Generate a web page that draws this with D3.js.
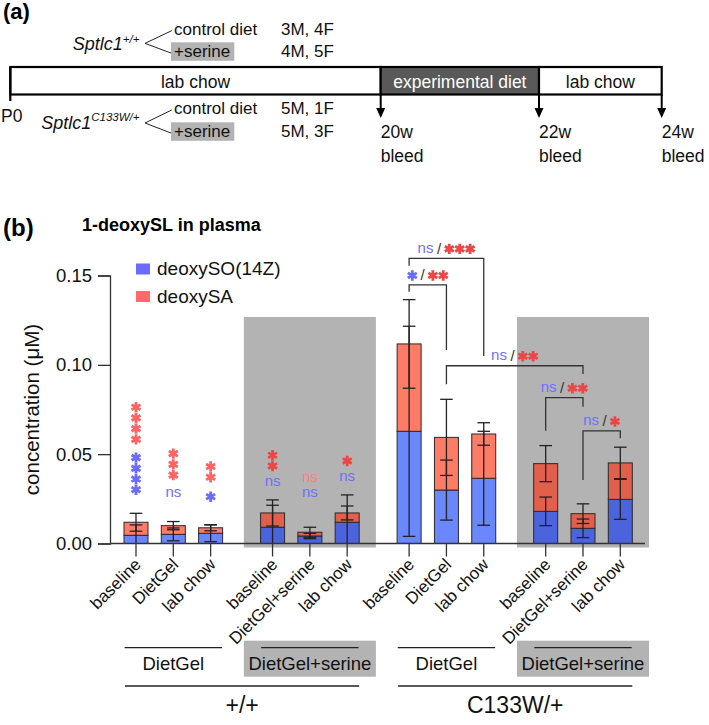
<!DOCTYPE html>
<html><head><meta charset="utf-8">
<script src="https://cdn.jsdelivr.net/npm/d3@7"></script>
<style>
body{margin:0;background:#fff}
svg{display:block;font-family:"Liberation Sans",Arial,Helvetica,sans-serif}
</style></head><body>
<svg id="c" width="709" height="725"></svg>
<script>
// ================= DATA =================
// Panel (a)
const genotypeNames = ["Sptlc1", "Sptlc1"];
const genotypeSup = ["+/+", "C133W/+"];
const dietOptions = ["control diet", "+serine"];
const cohortCounts = [["3M, 4F", "4M, 5F"], ["5M, 1F", "5M, 3F"]];
const timelineSegments = ["lab chow", "experimental diet", "lab chow"];
const timelineWeeks = [0, 20, 22, 24];
const bleedWeeks = [20, 22, 24];
const bleedLabels = ["20w", "22w", "24w"];

// Panel (b)
const chartTitle = "1-deoxySL in plasma";
const seriesNames = ["deoxySO(14Z)", "deoxySA"];
const tickLabels = ["baseline", "DietGel", "lab chow",
                    "baseline", "DietGel+serine", "lab chow",
                    "baseline", "DietGel", "lab chow",
                    "baseline", "DietGel+serine", "lab chow"];
const dietGroups = ["DietGel", "DietGel+serine", "DietGel", "DietGel+serine"];
const genotypeGroups = ["+/+", "C133W/+"];
const soMean = [0.0046, 0.0051, 0.0057, 0.0091, 0.0042, 0.0119, 0.0628, 0.0299, 0.0365, 0.0180, 0.0085, 0.0247];
const soSD   = [0.0058, 0.0036, 0.0047, 0.0123, 0.0015, 0.0153, 0.0588, 0.0168, 0.0263, 0.0080, 0.0052, 0.0112];
const saMean = [0.0073, 0.0049, 0.0031, 0.0080, 0.0021, 0.0052, 0.0489, 0.0295, 0.0248, 0.0267, 0.0082, 0.0204];
const saSD   = [0.0050, 0.0023, 0.0017, 0.0073, 0.0028, 0.0039, 0.0248, 0.0213, 0.0063, 0.0101, 0.0055, 0.0088];
const yTicks = [0, 0.05, 0.10, 0.15];
// significance vs wild-type (+/+ bars)
const sigSO = ["****", "ns", "*", "ns", "ns", "ns"];
const sigSA = ["****", "***", "**", "**", "ns", "*"];
// pairwise comparisons (bar indices)
const compA  = [6, 6, 7, 9, 10];
const compB  = [8, 7, 10, 10, 11];
const compSO = ["ns", "*", "ns", "ns", "ns"];
const compSA = ["***", "**", "**", "**", "*"];

// ================= LAYOUT =================
const sigSOAnchor = [0.0301, 0.0281, 0.0262, 0.0346, 0.0280, 0.0374];
const sigSAAnchor = [0.0583, 0.0383, 0.0371, 0.0434, 0.0368, 0.0462];
const compLevel = [0.1596, 0.1447, 0.0995, 0.0816, 0.0630];
const compLegA  = [0.1555, 0.1409, 0.0891, 0.0631, 0.0355];
const compLegB  = [0.1049, 0.1083, 0.0949, 0.0766, 0.0589];

const svg = d3.select("#c");
const FONT = '"Liberation Sans",Arial,sans-serif';
const BLUE = "#6b87fe", RED = "#fe7b65", BLUE_D = "#4b63dc", RED_D = "#e2604b";
const GRAY = "#b3b3b3";
const SIG_BLUE = "#6b6bff", SIG_RED = "#ff6464", SIG_RED_D = "#ee4646";

function starPath(r) {
  const c = Math.cos(Math.PI / 6) * r, s = Math.sin(Math.PI / 6) * r;
  return `M0,${-r}L0,${r}M${-c},${-s}L${c},${s}M${-c},${s}L${c},${-s}`;
}
function drawStar(g, cx, cy, color) {
  g.append("path").attr("d", starPath(5.2)).attr("transform", `translate(${cx},${cy})`)
    .attr("stroke", color).attr("stroke-width", 2.8).attr("fill", "none");
}

// ================= PANEL (a) =================
const pa = svg.append("g");
pa.append("text").attr("x", 3).attr("y", 19).attr("font-size", 22).attr("font-weight", "bold").text("(a)");

const rowBase = [[34.7, 57], [114, 137]];
const nameBase = [50, 128.5];
const nameRight = 139.5;
genotypeNames.forEach((nm, gi) => {
  const t = pa.append("text").attr("x", nameRight).attr("y", nameBase[gi])
    .attr("text-anchor", "end").attr("font-size", 18).attr("font-style", "italic").attr("fill", "#111");
  t.append("tspan").text(nm);
  t.append("tspan").attr("font-size", 11.5).attr("dy", -7.5).text(genotypeSup[gi]);
  const vx = 145, vy = (rowBase[gi][0] + rowBase[gi][1]) / 2 - 2.5;
  pa.append("path").attr("d", `M${171.7},${rowBase[gi][0] - 4}L${vx},${vy}L${171.7},${rowBase[gi][1] - 3.7}`)
    .attr("fill", "none").attr("stroke", "#222").attr("stroke-width", 1);
  dietOptions.forEach((d, di) => {
    const by = rowBase[gi][di];
    if (di === 1) pa.append("rect").attr("x", 171).attr("y", by - 14.7).attr("width", 63.3).attr("height", 18.5).attr("fill", GRAY);
    pa.append("text").attr("x", 174).attr("y", by).attr("font-size", 17).attr("fill", "#111").text(d);
    pa.append("text").attr("x", 281).attr("y", by).attr("font-size", 17).attr("fill", "#111").text(cohortCounts[gi][di]);
  });
});

const tx = d3.scaleLinear().domain(timelineWeeks).range([10.3, 380.7, 539, 661.7]);
const tTop = 67, tBot = 94.5;
timelineSegments.forEach((s, i) => {
  const x0 = tx(timelineWeeks[i]), x1 = tx(timelineWeeks[i + 1]);
  pa.append("rect").attr("x", x0).attr("y", tTop).attr("width", x1 - x0).attr("height", tBot - tTop)
    .attr("fill", i === 1 ? "#595959" : "#fff").attr("stroke", "#000").attr("stroke-width", 2.2);
  pa.append("text").attr("x", (x0 + x1) / 2).attr("y", 87.5).attr("text-anchor", "middle")
    .attr("font-size", 17.5).attr("fill", i === 1 ? "#fff" : "#111").text(s);
});
pa.append("line").attr("x1", tx(0)).attr("x2", tx(0)).attr("y1", tTop).attr("y2", 101)
  .attr("stroke", "#000").attr("stroke-width", 2.2);
pa.append("text").attr("x", 1).attr("y", 122).attr("font-size", 17.5).attr("fill", "#111").text("P0");
bleedWeeks.forEach((w, i) => {
  const x = tx(w);
  pa.append("line").attr("x1", x).attr("x2", x).attr("y1", tBot).attr("y2", 109).attr("stroke", "#000").attr("stroke-width", 2);
  pa.append("path").attr("d", `M${x - 4.5},${108}L${x + 4.5},${108}L${x},${118}Z`).attr("fill", "#000");
  pa.append("text").attr("x", x).attr("y", 138).attr("font-size", 17.5).attr("fill", "#111").text(bleedLabels[i]);
  pa.append("text").attr("x", x).attr("y", 161.5).attr("font-size", 17.5).attr("fill", "#111").text("bleed");
});

// ================= PANEL (b) =================
const pb = svg.append("g");
pb.append("text").attr("x", 3).attr("y", 236).attr("font-size", 24).attr("font-weight", "bold").text("(b)");
pb.append("text").attr("x", 82).attr("y", 231).attr("font-size", 18).attr("font-weight", "bold").text(chartTitle);

const y = d3.scaleLinear().domain([0, 0.15]).range([543.5, 275.5]);
const GAP = 0.66;
const posIndex = i => i + Math.floor(i / 3) * GAP;
const x = d3.scaleLinear().domain([0, 11 + 3 * GAP]).range([136, 620.3]);
const bx = i => x(posIndex(i));
const BW = 24;
const y0 = y(0);

// gray backgrounds for +serine groups
[1, 3].forEach(g => {
  const xa = bx(g * 3) - 28.7, xb = bx(g * 3 + 2) + 28.7;
  pb.append("rect").attr("x", xa).attr("y", y(0.1268)).attr("width", xb - xa).attr("height", y0 + 4 - y(0.1268)).attr("fill", GRAY);
});

// bars
soMean.forEach((so, i) => {
  const dark = Math.floor(i / 3) % 2 === 1;
  const sa = saMean[i];
  const cx = bx(i);
  pb.append("rect").attr("x", cx - BW / 2).attr("y", y(so)).attr("width", BW).attr("height", y0 - y(so))
    .attr("fill", dark ? BLUE_D : BLUE).attr("stroke", "#2a2a2a").attr("stroke-width", 1);
  pb.append("rect").attr("x", cx - BW / 2).attr("y", y(so + sa)).attr("width", BW).attr("height", y(so) - y(so + sa))
    .attr("fill", dark ? RED_D : RED).attr("stroke", "#2a2a2a").attr("stroke-width", 1);
});
// error bars
function errBar(cx, m, sd) {
  const hi = m + sd, lo = Math.max(0, m - sd);
  pb.append("line").attr("x1", cx).attr("x2", cx).attr("y1", y(hi)).attr("y2", y(lo)).attr("stroke", "#222").attr("stroke-width", 1.3);
  pb.append("line").attr("x1", cx - 6.3).attr("x2", cx + 6.3).attr("y1", y(hi)).attr("y2", y(hi)).attr("stroke", "#222").attr("stroke-width", 1.3);
  if (m - sd > 0)
    pb.append("line").attr("x1", cx - 6.3).attr("x2", cx + 6.3).attr("y1", y(lo)).attr("y2", y(lo)).attr("stroke", "#222").attr("stroke-width", 1.3);
}
soMean.forEach((so, i) => {
  errBar(bx(i), so, soSD[i]);
  errBar(bx(i), so + saMean[i], saSD[i]);
});

// y axis
const yAxis = pb.append("g").attr("transform", "translate(110,0)")
  .call(d3.axisLeft(y).tickValues(yTicks).tickFormat(d3.format(".2f")).tickSize(12).tickPadding(6));
yAxis.selectAll("text").attr("font-size", 18.5).attr("font-family", FONT).attr("fill", "#111");
yAxis.selectAll("line,path").attr("stroke", "#333").attr("stroke-width", 1.3);
pb.append("text").attr("transform", `translate(39,${(y(0) + y(0.15)) / 2}) rotate(-90)`)
  .attr("text-anchor", "middle").attr("font-size", 20.5).attr("fill", "#111").text("concentration (μM)");

// x axis
pb.append("line").attr("x1", 110).attr("x2", 645).attr("y1", y0).attr("y2", y0).attr("stroke", "#333").attr("stroke-width", 1.3);
tickLabels.forEach((t, i) => {
  const cx = bx(i);
  pb.append("line").attr("x1", cx).attr("x2", cx).attr("y1", y0).attr("y2", y0 + 13).attr("stroke", "#333").attr("stroke-width", 1.3);
  pb.append("text").attr("transform", `translate(${cx + 6},${y0 + 22}) rotate(-45)`)
    .attr("text-anchor", "end").attr("font-size", 17).attr("fill", "#111").text(t);
});

// group labels
dietGroups.forEach((d, g) => {
  const c = bx(g * 3 + 1);
  if (g % 2 === 1) {
    pb.append("rect").attr("x", bx(g * 3) - 28.7).attr("y", 640.7).attr("width", bx(g * 3 + 2) - bx(g * 3) + 57.4).attr("height", 36).attr("fill", GRAY);
  }
  pb.append("line").attr("x1", c - 48.7).attr("x2", c + 48.7).attr("y1", 647.7).attr("y2", 647.7).attr("stroke", "#222").attr("stroke-width", 1.3);
  pb.append("text").attr("x", c).attr("y", 669.5).attr("text-anchor", "middle").attr("font-size", 18.5).attr("fill", "#111").text(d);
});
genotypeGroups.forEach((gname, k) => {
  const xa = bx(k * 6) - 11, xb = bx(k * 6 + 5) + 12;
  pb.append("line").attr("x1", xa).attr("x2", xb).attr("y1", 686).attr("y2", 686).attr("stroke", "#222").attr("stroke-width", 1.3);
  pb.append("text").attr("x", (xa + xb) / 2).attr("y", 712.5).attr("text-anchor", "middle").attr("font-size", 23).attr("fill", "#111").text(gname);
});

// legend
[BLUE, RED].forEach((c, i) => {
  const base = 275 + i * 27.5;
  pb.append("rect").attr("x", 136).attr("y", base - 11.5).attr("width", 14).attr("height", 11).attr("fill", i === 0 ? "#6b6bff" : "#ff6b6b");
  pb.append("text").attr("x", 157).attr("y", base).attr("font-size", 19).attr("fill", "#111").text(seriesNames[i]);
});

// significance stacks above +/+ bars
const STEP = 10.7;
function stack(cx, anchorVal, code, color, nsColor) {
  const cy = y(anchorVal);
  if (code === "ns") {
    pb.append("text").attr("x", cx).attr("y", cy + 4).attr("text-anchor", "middle").attr("font-size", 15).attr("fill", nsColor).text("ns");
  } else {
    for (let k = 0; k < code.length; k++) drawStar(pb, cx, cy - k * STEP, color);
  }
}
sigSO.forEach((c, i) => {
  const dark = Math.floor(i / 3) % 2 === 1;
  stack(bx(i), sigSOAnchor[i], c, SIG_BLUE, "#6f6fff");
  stack(bx(i), sigSAAnchor[i], sigSA[i], dark ? SIG_RED_D : SIG_RED, "#ff7f7f");
});

// comparison brackets
compA.forEach((a, k) => {
  const xa = bx(a), xb = bx(compB[k]);
  const yl = y(compLevel[k]);
  pb.append("path").attr("d", `M${xa},${y(compLegA[k])}L${xa},${yl}L${xb},${yl}L${xb},${y(compLegB[k])}`)
    .attr("fill", "none").attr("stroke", "#333").attr("stroke-width", 1.3);
  const g = pb.append("g");
  const cy = yl - 9.5;
  let cur = 0;
  if (compSO[k] === "ns") {
    const t = g.append("text").attr("x", cur).attr("y", cy + 4).attr("font-size", 15).attr("fill", "#6f6fff").text("ns");
    cur += t.node().getComputedTextLength() + 3.5;
  } else {
    for (let s = 0; s < compSO[k].length; s++) { drawStar(g, cur + 5.2, cy, SIG_BLUE); cur += 10.4; }
    cur += 3;
  }
  const sl = g.append("text").attr("x", cur).attr("y", cy + 5).attr("font-size", 15).attr("fill", "#333").text("/");
  cur += sl.node().getComputedTextLength() + 3;
  for (let s = 0; s < compSA[k].length; s++) { drawStar(g, cur + 5.2, cy, SIG_RED_D); cur += 10.4; }
  g.attr("transform", `translate(${(xa + xb) / 2 - cur / 2},0)`);
});
</script>
</body></html>
